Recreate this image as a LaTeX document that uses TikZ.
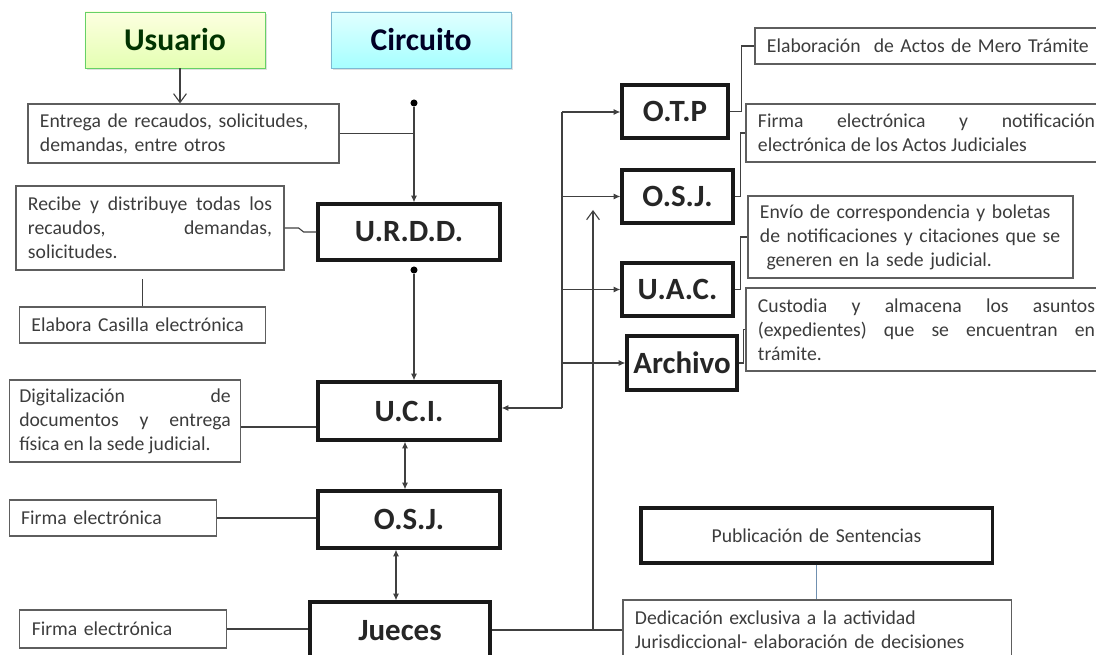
\documentclass[tikz,border=0pt]{standalone}
\usepackage{fontspec}
\setmainfont{Carlito}
\usetikzlibrary{positioning, shadows, arrows.meta}
\definecolor{txtgray}{HTML}{3C3C3C}
\definecolor{boxgray}{HTML}{5E5E5E}
\definecolor{linkblue}{HTML}{7090B0}
\tikzset{
  note/.style={draw=boxgray, line width=0.8pt, text=txtgray, inner xsep=0.3cm, inner ysep=0pt,
    font=\fontsize{14}{17}\selectfont, align=left},
  unit/.style={draw=black!90, line width=2.2pt, inner sep=0pt, text=black!85,
    font=\fontsize{22}{24}\selectfont\bfseries},
  head/.style={draw=#1!70!black!60, line width=0.6pt, minimum width=4.5cm, minimum height=1.4cm,
    font=\fontsize{22.5}{24}\selectfont\bfseries, drop shadow={opacity=0.25, shadow xshift=1.2pt, shadow yshift=-1.2pt}},
  link/.style={draw=black!75, line width=0.8pt},
  arr/.style={link, -{Latex[length=1.7mm,width=1.5mm]}},
  darr/.style={link, {Latex[length=1.7mm,width=1.5mm]}-{Latex[length=1.7mm,width=1.5mm]}},
  oarr/.style={link, -{Straight Barb[length=2.2mm,width=3.2mm]}},
  dot/.style={circle, fill=black, inner sep=0pt, minimum size=5pt}
}

\begin{document}
\begin{tikzpicture}[x=0.025cm, y=-0.025cm]
\useasboundingbox (0,0) rectangle (1096,655);
\clip (0,0) rectangle (1096,655);

% cabeceras
\node[head=green, top color=green!8!yellow!12, bottom color=green!35!yellow!30, text=black!80!green] (usuario) at (175,40) {Usuario};
\node[head=cyan, top color=cyan!12, bottom color=cyan!35, text=black!85!blue] (circuito) at (421,40) {Circuito};

% columna central
\node[unit, minimum width=4.55cm, minimum height=1.4cm] (urdd) at (409,232) {U.R.D.D.};
\node[unit, minimum width=4.55cm, minimum height=1.45cm] (uci) at (409,411) {U.C.I.};
\node[unit, minimum width=4.55cm, minimum height=1.425cm] (osj) at (409,519.5) {O.S.J.};
\node[unit, minimum width=4.5cm, minimum height=1.45cm] (jueces) at (400,631) {Jueces};

% notas izquierda
\node[note, text width=7.175cm, minimum height=1.475cm] (entrega) at (183.5,133.5)
  {Entrega de recaudos, solicitudes,\\ demandas, entre otros};
\node[note, text width=6.1cm, minimum height=2.1cm, align=justify] (recibe) at (150,228)
  {Recibe y distribuye todas los\linebreak recaudos, demandas,\linebreak solicitudes.};
\node[note, text width=5.55cm, minimum height=0.9cm] (casilla) at (142.5,325) {Elabora Casilla electrónica};
\node[note, text width=5.285cm, inner xsep=0.25cm, minimum height=2.05cm, align=justify] (digital) at (125,421)
  {Digitalización de\linebreak documentos y entrega\linebreak física en la sede judicial.};
\node[note, text width=4.59cm, minimum height=0.9cm] (firmaA) at (113,518) {Firma electrónica};
\node[note, text width=4.56cm, minimum height=0.95cm] (firmaB) at (123,629) {Firma electrónica};

% oficinas derecha
\node[unit, minimum width=2.65cm, minimum height=1.325cm] (otp) at (675,111.5) {O.T.P};
\node[unit, minimum width=2.775cm, minimum height=1.325cm] (osjb) at (677.5,196.5) {O.S.J.};
\node[unit, minimum width=2.775cm, minimum height=1.325cm] (uac) at (677.5,289.5) {U.A.C.};
\node[unit, minimum width=2.75cm, minimum height=1.35cm] (archivo) at (682,363) {Archivo};

% notas derecha
\node[note, text width=8.275cm, minimum height=0.9cm] (mero) at (932.5,46)
  {Elaboración \ de Actos de Mero Trámite};
\node[note, text width=8.425cm, minimum height=1.45cm, align=justify] (notif) at (926.5,133)
  {Firma electrónica y notificación\linebreak electrónica de los Actos Judiciales};
\node[note, text width=7.525cm, minimum height=2.05cm] (envio) at (910.5,237)
  {Envío de correspondencia y boletas\\ de notificaciones y citaciones que se\\ \ generen en la sede judicial.};
\node[note, text width=8.425cm, minimum height=2.075cm, align=justify] (custodia) at (926.5,329.5)
  {Custodia y almacena los asuntos\linebreak (expedientes) que se encuentran en\linebreak trámite.};
\node[note, draw=black!90, line width=2.2pt, text width=8.175cm, minimum height=1.375cm, align=center]
  (sentencias) at (816.5,535.5) {Publicación de Sentencias};
\node[note, text width=9.1cm, minimum height=1.5cm] (dedica) at (817,630)
  {Dedicación exclusiva a la actividad\\ Jurisdiccional- elaboración de decisiones};

% puntos y coordenadas libres
\node[dot] (p1) at (414,103) {};
\node[dot] (p2) at (414,270) {};
\coordinate (bustop) at (562,112);
\coordinate (busbot) at (562,408);
\coordinate (subida) at (593,210);

% conectores
\draw[oarr] (usuario.south -| 180,0) -- (entrega.north -| 180,0);
\draw[arr] (p1) -- (p1 |- urdd.north);
\draw[link] (entrega.east) -- (entrega.east -| p1);
\draw[link] (recibe.east) -- ++(14,0) -- ++(5,4) -- (urdd.west);
\draw[link] (casilla.north) -- ++(0,-27);
\draw[arr] (p2) -- (p2 |- uci.north);
\draw[link] ([yshift=-0.15cm]digital.east) -- ([yshift=-0.15cm]digital.east -| uci.west);
\draw[darr] (uci.south -| 405,0) -- (osj.north -| 405,0);
\draw[link] (firmaA.east) -- (firmaA.east -| osj.west);
\draw[darr] (osj.south -| 396,0) -- (jueces.north -| 396,0);
\draw[link] (firmaB.east) -- (firmaB.east -| jueces.west);
\draw[link] (jueces.east |- dedica.west) -- (dedica.west);
\draw[oarr] (dedica.west -| subida) -- (subida);
\draw[link, draw=linkblue, line width=0.6pt] (sentencias.south) -- (sentencias.south |- dedica.north);

\draw[link] (bustop) -- (busbot);
\draw[arr] (busbot) -- (busbot -| uci.east);
\draw[arr] (bustop) -- (bustop -| otp.west);
\draw[arr] (bustop |- osjb.west) -- (osjb.west);
\draw[arr] (bustop |- uac.west) -- (uac.west);
\draw[arr] (bustop |- archivo.west) -- (archivo.west);

\draw[link] (otp.east) -- ++(12,0) |- (mero.west);
\draw[link] (osjb.east) -- ++(6,0) |- (notif.west);
\draw[link] (uac.east) -- ++(6,0) |- (envio.west);
\draw[link] (archivo.east) -- ++(5,0) |- (custodia.west);
\end{tikzpicture}
\end{document}
